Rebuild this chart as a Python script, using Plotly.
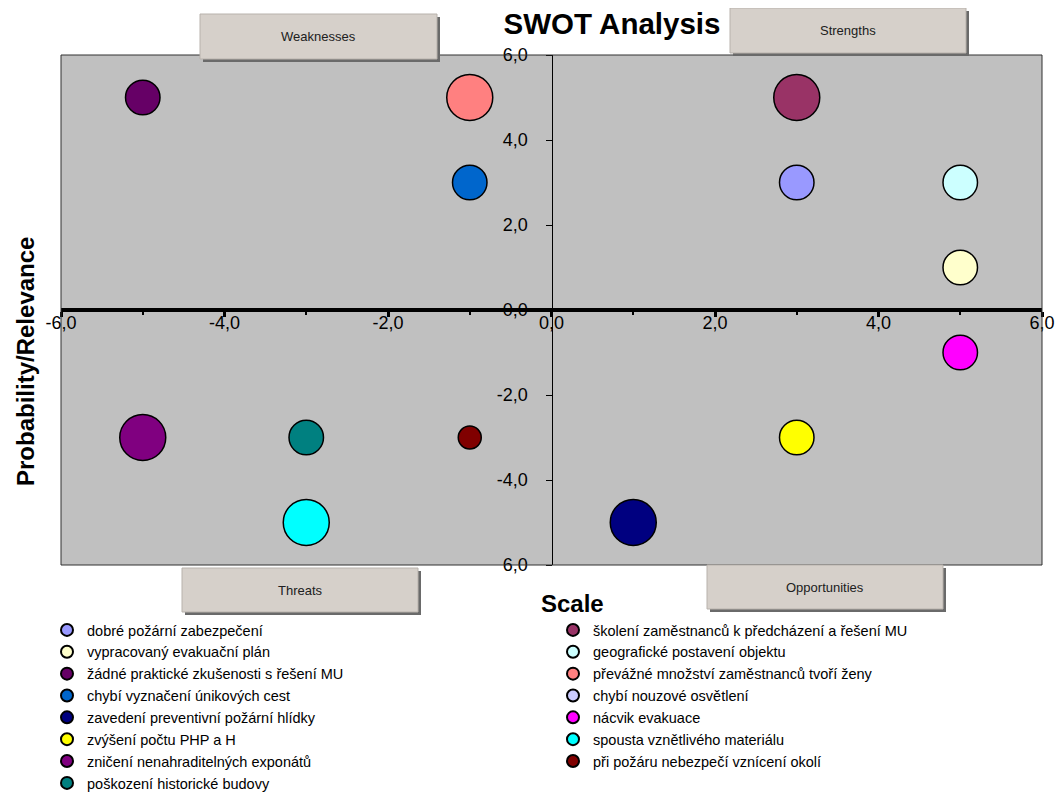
import plotly.graph_objects as go

# ---- data ----
names = [
    "dobré požární zabezpečení",
    "školení zaměstnanců k předcházení a řešení MU",
    "vypracovaný evakuační plán",
    "geografické postavení objektu",
    "žádné praktické zkušenosti s řešení MU",
    "převážné množství zaměstnanců tvoří ženy",
    "chybí vyznačení únikových cest",
    "chybí nouzové osvětlení",
    "zavedení preventivní požární hlídky",
    "nácvik evakuace",
    "zvýšení počtu PHP a H",
    "spousta vznětlivého materiálu",
    "zničení nenahraditelných exponátů",
    "při požáru nebezpečí vznícení okolí",
    "poškození historické budovy",
]
scale_vals = [3, 3, 5, 5, -5, -1, -1, None, 1, 5, 3, -3, -5, -1, -3]
relevance_vals = [3, 5, 1, 3, 5, 5, 3, None, -5, -1, -3, -5, -3, -3, -3]
bubble_sizes = [3, 4, 3, 3, 3, 4, 3, None, 4, 3, 3, 4, 4, 2, 3]
colors = ["#9999FF", "#993366", "#FFFFCC", "#CCFFFF", "#660066", "#FF8080",
          "#0066CC", "#CCCCFF", "#000080", "#FF00FF", "#FFFF00", "#00FFFF",
          "#800080", "#800000", "#008080"]

x_tickvals = [-6, -4, -2, 0, 2, 4, 6]
x_ticktext = ["-6,0", "-4,0", "-2,0", "0,0", "2,0", "4,0", "6,0"]
y_tickvals = [-6, -4, -2, 0, 2, 4, 6]
y_ticktext = ["6,0", "-4,0", "-2,0", "0,0", "2,0", "4,0", "6,0"]

quadrants = ["Weaknesses", "Strengths", "Threats", "Opportunities"]

# ---- layout geometry (page pixels; the page body adds an 8px margin) ----
OFF = 8
W, H = 1064 - OFF, 792 - OFF
L, R, T, B = 61, 1042, 55, 565
PX_PER = 11.5
FONT = "Liberation Sans, Arial, sans-serif"


def px_x(p):
    return (p - L) / (R - L)


def px_y(p):
    return (B - p) / (B - T)


fig = go.Figure()
for i, n in enumerate(names):
    s = bubble_sizes[i]
    fig.add_trace(go.Scatter(
        x=[scale_vals[i]], y=[relevance_vals[i]], name=n, mode="markers",
        marker=dict(size=(s * PX_PER) if s is not None else PX_PER,
                    color=colors[i], opacity=1,
                    line=dict(color="black", width=1.5)),
        legend="legend" if i % 2 == 0 else "legend2",
        hoverinfo="name",
    ))

shapes = []
annotations = []
# plot border
shapes.append(dict(type="rect", xref="paper", yref="paper", x0=0, y0=0, x1=1, y1=1,
                   line=dict(color="#303030", width=1), layer="above"))

boxes = [(200, 14, 437, 59), (730, 8, 966, 53), (182, 568, 418, 612), (707, 565, 943, 609)]
for label, (bx0, by0, bx1, by1) in zip(quadrants, boxes):
    shapes.append(dict(type="rect", xref="paper", yref="paper",
                       x0=px_x(bx0 + 3), x1=px_x(bx1 + 3), y0=px_y(by1 + 3), y1=px_y(by0 + 3),
                       fillcolor="#6a6a6a", line=dict(width=0), layer="above"))
    shapes.append(dict(type="rect", xref="paper", yref="paper",
                       x0=px_x(bx0), x1=px_x(bx1), y0=px_y(by1), y1=px_y(by0),
                       fillcolor="#D6D0CA", line=dict(color="#B8B2AC", width=1), layer="above"))
    annotations.append(dict(text=label, xref="paper", yref="paper",
                            x=px_x((bx0 + bx1) / 2), y=px_y((by0 + by1) / 2),
                            xanchor="center", yanchor="middle",
                            showarrow=False, font=dict(family=FONT, size=13, color="#202020")))

annotations.append(dict(text="<b>Scale</b>", xref="paper", yref="paper",
                        x=px_x(572), y=px_y(603), xanchor="center", yanchor="middle",
                        showarrow=False,
                        font=dict(family=FONT, size=24, color="black")))
annotations.append(dict(text="<b>Probability/Relevance</b>", xref="paper", yref="paper",
                        x=px_x(25), y=px_y(362), xanchor="center", yanchor="middle",
                        showarrow=False, textangle=-90,
                        font=dict(family=FONT, size=24, color="black")))

fig.update_layout(
    width=W, height=H,
    margin=dict(l=L - OFF, r=W - (R - OFF), t=T - OFF, b=H - (B - OFF), autoexpand=False),
    paper_bgcolor="white", plot_bgcolor="#C0C0C0",
    title=dict(text="<b>SWOT Analysis</b>", x=(612 - OFF) / W, y=1 - (24 - OFF) / H,
               xref="container", yref="container", xanchor="center", yanchor="middle",
               font=dict(family=FONT, size=29.5, color="black")),
    xaxis=dict(range=[-6, 6], anchor="free", position=0.5, showgrid=False, zeroline=False,
               showline=True, linecolor="black", linewidth=3.5,
               tickvals=x_tickvals, ticktext=x_ticktext, ticks="outside", ticklen=5,
               tickwidth=3, tickcolor="black", ticklabelstandoff=-9,
               minor=dict(dtick=1, tick0=-5, ticks="outside", ticklen=3, tickwidth=2, tickcolor="black"),
               tickfont=dict(family=FONT, size=18, color="black")),
    yaxis=dict(range=[-6, 6], anchor="free", position=0.5, showgrid=False, zeroline=False,
               showline=True, linecolor="black", linewidth=1,
               tickvals=y_tickvals, ticktext=y_ticktext, ticks="outside", ticklen=6,
               tickwidth=1, tickcolor="black", ticklabelstandoff=14,
               tickfont=dict(family=FONT, size=18, color="black")),
    showlegend=True,
    legend=dict(x=px_x(47), y=px_y(614), xanchor="left", yanchor="top",
                bgcolor="rgba(0,0,0,0)", itemsizing="constant", tracegroupgap=0,
                font=dict(family=FONT, size=14.5, color="black")),
    legend2=dict(x=px_x(553), y=px_y(614), xanchor="left", yanchor="top",
                 bgcolor="rgba(0,0,0,0)", itemsizing="constant", tracegroupgap=0,
                 font=dict(family=FONT, size=14.5, color="black")),
    shapes=shapes, annotations=annotations,
)

fig.write_html("out.html")
